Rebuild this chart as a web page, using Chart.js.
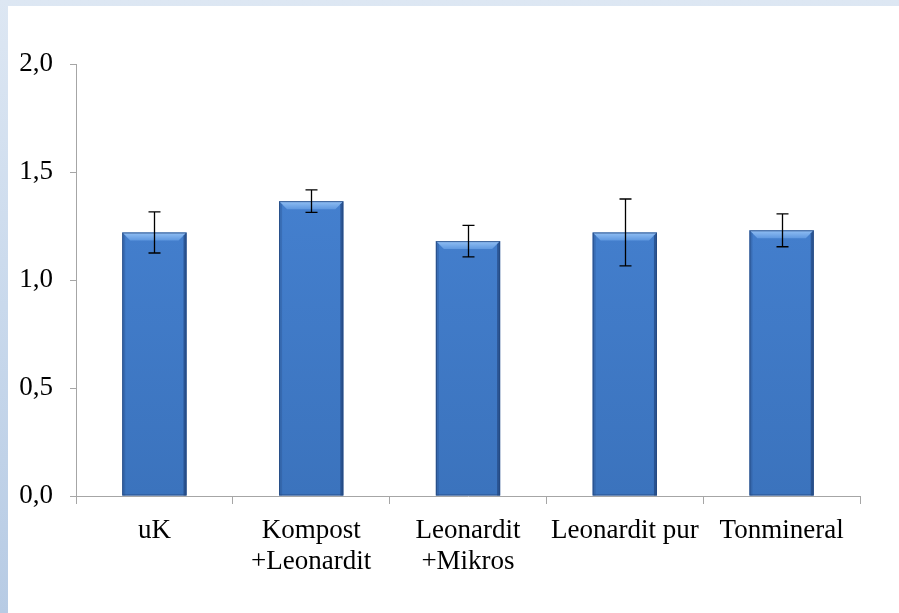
<!DOCTYPE html>
<html>
<head>
<meta charset="utf-8">
<script src="https://cdn.jsdelivr.net/npm/chart.js@4.4.1/dist/chart.umd.min.js"></script>
<style>
    html, body { margin: 0; padding: 0; }
    body {
        width: 899px; height: 613px; overflow: hidden;
        background: linear-gradient(to bottom, #dde7f3 0%, #c9d9ec 50%, #b7cbe4 100%);
        position: relative;
    }
    #wrap {
        position: absolute; left: 8px; top: 6px; width: 891px; height: 607px;
        background: #ffffff;
    }
</style>
</head>
<body>
<div id="wrap"><canvas id="chart" width="891" height="607"></canvas></div>
<script>
const categories = [["uK"], ["Kompost", "+Leonardit"], ["Leonardit", "+Mikros"], ["Leonardit pur"], ["Tonmineral"]];
const means      = [1.22, 1.365, 1.18, 1.22, 1.23];
const errors     = [0.095, 0.052, 0.073, 0.155, 0.076];
const yTicks     = [0, 0.5, 1.0, 1.5, 2.0];

const FONT = "'Liberation Serif', 'Times New Roman', serif";

// bevel look of the bars, drawn over each bar rectangle from the library
const bevelPlugin = {
    id: "bevel",
    afterDatasetsDraw(chart) {
        const ctx = chart.ctx;
        chart.getDatasetMeta(0).data.forEach(bar => {
            const l = bar.x - bar.width / 2, r = bar.x + bar.width / 2;
            const t = bar.y, b = bar.base;
            const d = 8;
            ctx.save();
            // top bevel
            const g = ctx.createLinearGradient(0, t, 0, t + d);
            g.addColorStop(0, "#92c0f4");
            g.addColorStop(1, "#5f98e0");
            ctx.fillStyle = g;
            ctx.beginPath();
            ctx.moveTo(l, t); ctx.lineTo(r, t); ctx.lineTo(r - d, t + d); ctx.lineTo(l + d, t + d);
            ctx.closePath(); ctx.fill();
            // left side
            ctx.fillStyle = "rgba(40,80,140,0.35)";
            ctx.beginPath();
            ctx.moveTo(l, t); ctx.lineTo(l + 3, t + 3); ctx.lineTo(l + 3, b); ctx.lineTo(l, b);
            ctx.closePath(); ctx.fill();
            // right side
            ctx.fillStyle = "rgba(25,55,105,0.55)";
            ctx.beginPath();
            ctx.moveTo(r, t); ctx.lineTo(r - 3, t + 3); ctx.lineTo(r - 3, b); ctx.lineTo(r, b);
            ctx.closePath(); ctx.fill();
            // outline
            ctx.strokeStyle = "rgba(35,70,125,0.8)";
            ctx.lineWidth = 1;
            ctx.strokeRect(l + 0.5, t + 0.5, bar.width - 1, b - t - 1);
            ctx.restore();
        });
    }
};

// error bars
const errorPlugin = {
    id: "errorBars",
    afterDatasetsDraw(chart) {
        const ctx = chart.ctx;
        const y = chart.scales.y;
        chart.getDatasetMeta(0).data.forEach((bar, i) => {
            const top = y.getPixelForValue(means[i] + errors[i]);
            const bot = y.getPixelForValue(means[i] - errors[i]);
            const x = Math.round(bar.x) + 0.5;
            ctx.save();
            ctx.strokeStyle = "#000000";
            ctx.lineWidth = 1.3;
            ctx.beginPath();
            ctx.moveTo(x, top); ctx.lineTo(x, bot);
            ctx.moveTo(x - 6, top); ctx.lineTo(x + 6, top);
            ctx.moveTo(x - 6, bot); ctx.lineTo(x + 6, bot);
            ctx.stroke();
            ctx.restore();
        });
    }
};

const canvas = document.getElementById("chart");
const c2d = canvas.getContext("2d");
const barFill = c2d.createLinearGradient(0, 58, 0, 490);
barFill.addColorStop(0, "#4885d6");
barFill.addColorStop(1, "#3b73bd");

new Chart(canvas, {
    type: "bar",
    data: {
        labels: categories,
        datasets: [{
            data: means,
            backgroundColor: barFill,
            borderWidth: 0,
            categoryPercentage: 1.0,
            barPercentage: 0.41,
        }]
    },
    options: {
        responsive: false,
        animation: false,
        layout: { padding: { left: 0, right: 39, top: 58, bottom: 0 } },
        plugins: { legend: { display: false }, tooltip: { enabled: false } },
        scales: {
            x: {
                offset: true,
                afterFit: s => { s.height = 117; },
                border: { color: "#a6a6a6", width: 1 },
                grid: { offset: true, drawOnChartArea: false, tickLength: 8, color: "#a6a6a6" },
                ticks: {
                    color: "#000000", padding: 11, maxRotation: 0, autoSkip: false,
                    font: { family: FONT, size: 27, lineHeight: 1.15 }
                }
            },
            y: {
                min: 0, max: 2,
                afterFit: s => { s.width = 68; },
                afterBuildTicks: s => { s.ticks = yTicks.map(v => ({ value: v })); },
                border: { color: "#a6a6a6", width: 1 },
                grid: { drawOnChartArea: false, tickLength: 6, color: "#a6a6a6" },
                ticks: {
                    color: "#000000", padding: 17,
                    font: { family: FONT, size: 27 },
                    callback: v => v.toFixed(1).replace(".", ",")
                }
            }
        }
    },
    plugins: [bevelPlugin, errorPlugin]
});
</script>
</body>
</html>
